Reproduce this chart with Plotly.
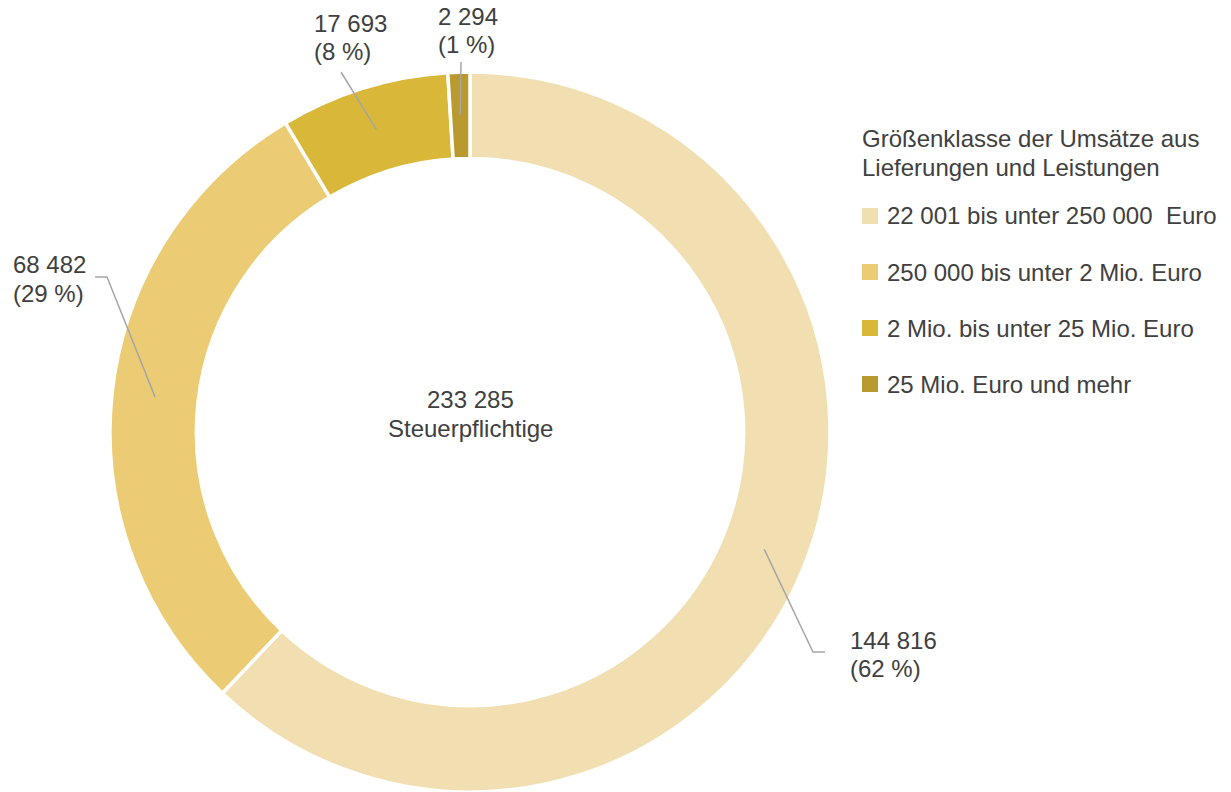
import numpy as np
import plotly.graph_objects as go

categories = ["22 001 bis unter 250 000  Euro", "250 000 bis unter 2 Mio. Euro",
              "2 Mio. bis unter 25 Mio. Euro", "25 Mio. Euro und mehr"]
values = [144816, 68482, 17693, 2294]
colors = ["#F2DFB1", "#EBCB74", "#D9B739", "#B89A2F"]
total = 233285
legend_title = ["Größenklasse der Umsätze aus", "Lieferungen und Leistungen"]
center_label = "Steuerpflichtige"

W, H = 1231, 792
CX, CY, R_OUT = 470, 432, 360
HOLE = 0.76
R_MID = R_OUT * (1 + HOLE) / 2
FS = 24
TXT = "#404040"

def px(x):
    return x / W

def py(y):
    return 1 - y / H

fmt = lambda v: f"{v:,}".replace(",", " ")

fig = go.Figure()
fig.add_trace(go.Pie(
    labels=categories, values=values, sort=False, direction="clockwise", rotation=0,
    hole=HOLE, textinfo="none", hoverinfo="label+value+percent",
    marker=dict(colors=colors, line=dict(color="white", width=3.5)),
    domain=dict(x=[px(CX - R_OUT), px(CX + R_OUT)], y=[py(CY + R_OUT), py(CY - R_OUT)]),
    showlegend=False,
))

# leader line end points / label anchors (pixel layout)
elbows = [[(813, 652), (825, 652)], [(107, 277), (95, 277)], [(341, 72)], [(461, 62)]]
label_pos = [(848, 640), (11, 265), (312, 24), (436, 17)]
LINE_GAP = 28

def text(x, y, s, xanchor="left"):
    return dict(x=px(x), y=py(y), xref="paper", yref="paper", text=s,
                showarrow=False, xanchor=xanchor, yanchor="middle",
                font=dict(size=FS, color=TXT))

vals = np.array(values, dtype=float)
frac = vals / vals.sum()
mids = (np.cumsum(frac) - frac / 2) * 2 * np.pi
shapes = []
annotations = []
for i, (v, a) in enumerate(zip(values, mids)):
    sx = CX + R_MID * np.sin(a)
    sy = CY - R_MID * np.cos(a)
    pts = [(sx, sy)] + elbows[i]
    path = "M " + " L ".join(f"{px(x):.5f},{py(y):.5f}" for x, y in pts)
    shapes.append(dict(type="path", path=path, xref="paper", yref="paper",
                       line=dict(color="#A6A6A6", width=1.5)))
    pct = round(v / total * 100)
    lx, ly = label_pos[i]
    annotations.append(text(lx, ly, fmt(v)))
    annotations.append(text(lx, ly + LINE_GAP, f"({pct} %)"))

annotations.append(text(CX, 399, fmt(total), "center"))
annotations.append(text(CX, 428, center_label, "center"))

# manual legend
annotations.append(text(860, 138, legend_title[0]))
annotations.append(text(860, 167, legend_title[1]))
leg_y = [216, 272, 328, 384]
for c, lab, y in zip(colors, categories, leg_y):
    shapes.append(dict(type="rect", xref="paper", yref="paper",
                       x0=px(862), x1=px(878), y0=py(y + 8), y1=py(y - 8),
                       fillcolor=c, line=dict(width=0)))
    annotations.append(text(885, y, lab.replace("  ", "&nbsp; ")))

fig.update_layout(
    width=W, height=H, margin=dict(l=0, r=0, t=0, b=0),
    paper_bgcolor="white", plot_bgcolor="white",
    font=dict(family="Liberation Sans, Arial, sans-serif", size=FS, color=TXT),
    shapes=shapes, annotations=annotations, showlegend=False,
)
fig.write_html("out.html", config={"displayModeBar": False},
               post_script="document.body.style.margin='0';")
